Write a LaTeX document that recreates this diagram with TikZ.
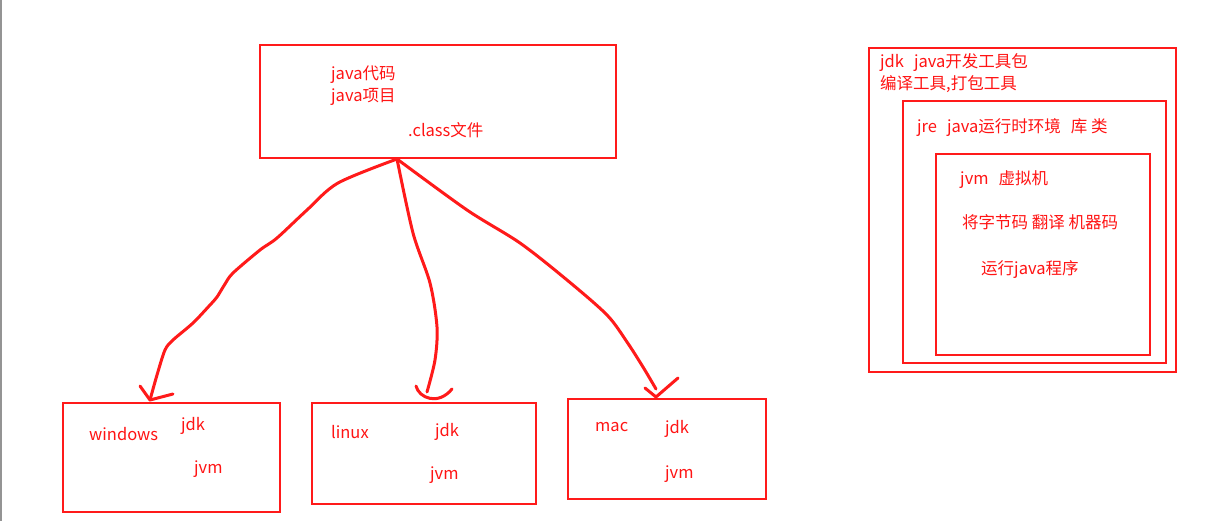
\documentclass[tikz,border=0pt]{standalone}
\usepackage{fontspec}
\setmainfont{Noto Sans CJK SC}
\definecolor{pen}{HTML}{FF1A1A}
\definecolor{ink}{HTML}{FF1414}
\newcommand{\gap}{\hspace{10pt}}
\begin{document}
\begin{tikzpicture}[x=1pt,y=-1pt,
  box/.style={draw=pen, line width=1.6pt, anchor=north west, inner sep=0pt},
  txt/.style={text=ink, anchor=west, inner sep=0pt, font=\fontsize{16.5}{19}\selectfont},
  hand/.style={draw=pen, line width=3pt, line cap=round, line join=round}]
\useasboundingbox (0,0) rectangle (1231,521);
\fill[white] (0,0) rectangle (1231,521);
\fill[gray!80!black!70] (0,0) rectangle (2.2,521);

% top box
\node[box, minimum width=356pt, minimum height=113pt] (top) at (259,44) {};
\node[txt] (t1) at (331,75) {java代码};
\node[txt] (t2) at (331,97) {java项目};
\node[txt] (t3) at (408,130) {.class文件};

% jdk nested boxes
\node[box, minimum width=307pt, minimum height=324pt] (jdk) at (868,47) {};
\node[box, minimum width=263pt, minimum height=262pt] (jre) at (902,100) {};
\node[box, minimum width=214pt, minimum height=201pt] (jvm) at (935,153) {};
\node[txt] (k1) at (880,63) {jdk\gap java开发工具包};
\node[txt] (k2) at (880,84) {编译工具,打包工具};
\node[txt] (k3) at (917,128) {jre\gap java运行时环境\gap 库 类};
\node[txt] (k4) at (960,180) {jvm\gap 虚拟机};
\node[txt] (k5) at (962,222) {将字节码 翻译 机器码};
\node[txt] (k6) at (981,270) {运行java程序};

% platform boxes
\node[box, minimum width=217pt, minimum height=109pt] (win) at (62,402) {};
\node[txt] (w1) at (89,434) {windows};
\node[txt] (w2) at (181,426) {jdk};
\node[txt] (w3) at (194,469) {jvm};

\node[box, minimum width=224pt, minimum height=101pt] (lin) at (311,402) {};
\node[txt] (l1) at (331,432) {linux};
\node[txt] (l2) at (435,432) {jdk};
\node[txt] (l3) at (430,475) {jvm};

\node[box, minimum width=198pt, minimum height=100pt] (mac) at (567,398) {};
\node[txt] (m1) at (595,427) {mac};
\node[txt] (m2) at (665,429) {jdk};
\node[txt] (m3) at (665,474) {jvm};

% connector end points
\coordinate (src) at (397,159);
\coordinate (wtip) at (150,400);
\coordinate (mtip) at (656,397);

% hand-drawn arrows
\draw[hand] plot[smooth, tension=0.5] coordinates {(src) (338,183) (307,210) (277,238) (260,250) (233,273) (225,284) (217,297) (210,305) (193,323) (173,340) (165,350) (157,375) (wtip)};
\draw[hand] (140,386) -- (wtip) -- (173,394);

\draw[hand] plot[smooth, tension=0.5] coordinates {(src) (413,233) (430,283) (437,327) (435,360) (427,392)};
\draw[hand] (416,386) .. controls (419,398) and (438,406) .. (452,389);

\draw[hand] plot[smooth, tension=0.5] coordinates {(src) (467,210) (520,243) (567,280) (607,315) (627,342) (643,367) (656,389)};
\draw[hand] (645,388) -- (mtip) -- (678,378);
\end{tikzpicture}
\end{document}
